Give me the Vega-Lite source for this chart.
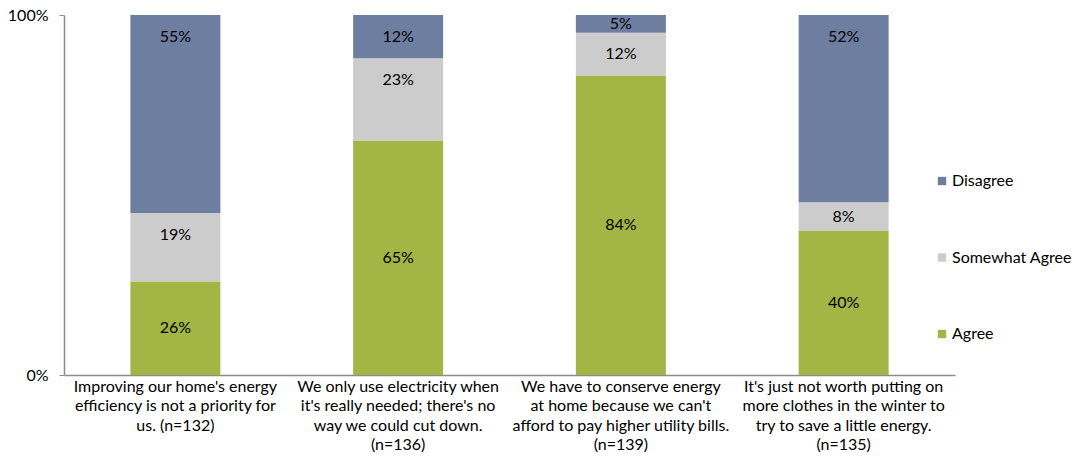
{
  "$schema": "https://vega.github.io/schema/vega-lite/v6.json",
  "autosize": "none",
  "width": 891,
  "height": 360,
  "padding": {"left": 64, "top": 15, "right": 122, "bottom": 101},
  "background": "white",
  "config": {
    "font": "Lato",
    "view": {"stroke": null}
  },
  "data": {
    "values": [
      {"q": "Improving our home's energy|efficiency is not a priority for|us. (n=132)", "response": "Agree", "value": 26},
      {"q": "Improving our home's energy|efficiency is not a priority for|us. (n=132)", "response": "Somewhat Agree", "value": 19},
      {"q": "Improving our home's energy|efficiency is not a priority for|us. (n=132)", "response": "Disagree", "value": 55},
      {"q": "We only use electricity when|it's really needed; there's no|way we could cut down.|(n=136)", "response": "Agree", "value": 65},
      {"q": "We only use electricity when|it's really needed; there's no|way we could cut down.|(n=136)", "response": "Somewhat Agree", "value": 23},
      {"q": "We only use electricity when|it's really needed; there's no|way we could cut down.|(n=136)", "response": "Disagree", "value": 12},
      {"q": "We have to conserve energy|at home because we can't|afford to pay higher utility bills.|(n=139)", "response": "Agree", "value": 84},
      {"q": "We have to conserve energy|at home because we can't|afford to pay higher utility bills.|(n=139)", "response": "Somewhat Agree", "value": 12},
      {"q": "We have to conserve energy|at home because we can't|afford to pay higher utility bills.|(n=139)", "response": "Disagree", "value": 5},
      {"q": "It's just not worth putting on|more clothes in the winter to|try to save a little energy.|(n=135)", "response": "Agree", "value": 40},
      {"q": "It's just not worth putting on|more clothes in the winter to|try to save a little energy.|(n=135)", "response": "Somewhat Agree", "value": 8},
      {"q": "It's just not worth putting on|more clothes in the winter to|try to save a little energy.|(n=135)", "response": "Disagree", "value": 52}
    ]
  },
  "transform": [
    {"calculate": "indexof(['Agree','Somewhat Agree','Disagree'], datum.response)", "as": "k"},
    {"stack": "value", "groupby": ["q"], "sort": [{"field": "k", "order": "ascending"}], "offset": "normalize", "as": ["y0", "y1"]},
    {"calculate": "datum.k == 0 ? (datum.y0 + datum.y1) / 2 : max((datum.y0 + datum.y1) / 2, datum.y1 - 0.061)", "as": "ylab"},
    {"calculate": "datum.value + '%'", "as": "lab"}
  ],
  "encoding": {
    "x": {
      "field": "q",
      "type": "nominal",
      "sort": null,
      "title": null,
      "scale": {"paddingInner": 0.596, "paddingOuter": 0.298},
      "axis": {
        "labelExpr": "split(datum.value, '|')",
        "labelAngle": 0,
        "labelFontSize": 16,
        "labelLineHeight": 19.5,
        "labelColor": "#000000",
        "labelLimit": 0,
        "labelOverlap": false,
        "labelBound": false,
        "labelPadding": 3,
        "ticks": false,
        "domainColor": "#8c8c8c",
        "domainWidth": 1.5
      }
    }
  },
  "layer": [
    {
      "mark": {"type": "bar"},
      "encoding": {
        "y": {
          "field": "y0",
          "type": "quantitative",
          "scale": {"domain": [0, 1]},
          "title": null,
          "axis": {
            "values": [0, 1],
            "format": ".0%",
            "grid": false,
            "labelFontSize": 16,
            "labelColor": "#000000",
            "labelPadding": 11,
            "tickSize": 5,
            "tickColor": "#8c8c8c",
            "domainColor": "#8c8c8c",
            "domainWidth": 1.5
          }
        },
        "y2": {"field": "y1"},
        "color": {
          "field": "response",
          "type": "nominal",
          "scale": {
            "domain": ["Disagree", "Somewhat Agree", "Agree"],
            "range": ["#6e7ea0", "#cccccc", "#a2b545"]
          },
          "legend": {
            "title": null,
            "orient": "none",
            "legendX": 870,
            "legendY": 158,
            "symbolType": "square",
            "symbolSize": 70,
            "symbolStrokeWidth": 0,
            "labelFontSize": 16,
            "labelColor": "#000000",
            "labelOffset": 2,
            "rowPadding": 60.5
          }
        }
      }
    },
    {
      "mark": {"type": "text", "fontSize": 16, "color": "#000000", "baseline": "middle", "align": "center"},
      "encoding": {
        "y": {"field": "ylab", "type": "quantitative"},
        "text": {"field": "lab"}
      }
    }
  ]
}
